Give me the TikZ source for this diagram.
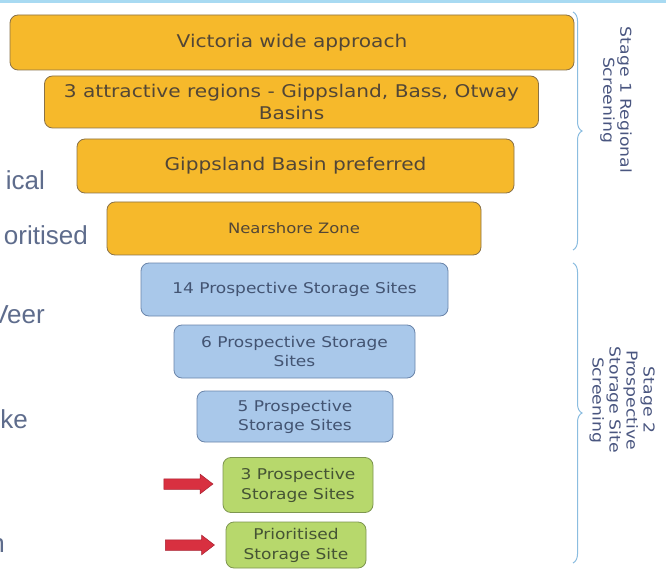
\documentclass[tikz,border=0pt]{standalone}
\usepackage{fontspec}
\newfontfamily\boxfont{DejaVu Sans}[FakeStretch=1.15]
\newfontfamily\leftfont{Liberation Sans}
\usetikzlibrary{decorations.pathreplacing,shapes.arrows}
\definecolor{orfill}{HTML}{F6B92B}
\definecolor{orline}{HTML}{8A7248}
\definecolor{ortext}{HTML}{524636}
\definecolor{blfill}{HTML}{A9C8EA}
\definecolor{blline}{HTML}{6A85AA}
\definecolor{bltext}{HTML}{435472}
\definecolor{grfill}{HTML}{B7D86C}
\definecolor{grline}{HTML}{7E9650}
\definecolor{grtext}{HTML}{455434}
\definecolor{redfill}{HTML}{D83040}
\definecolor{redline}{HTML}{A82030}
\definecolor{bracecol}{HTML}{8BBDE0}
\definecolor{lefttext}{HTML}{5E6C8C}
\definecolor{stagetext}{HTML}{4A5680}
\definecolor{topbar}{HTML}{A8DAF2}
\tikzset{
  funnelbox/.style={draw, rounded corners=8pt, line width=0.8pt, align=center, inner sep=0pt},
  orangebox/.style={funnelbox, fill=orfill, draw=orline, text=ortext, font=\boxfont\fontsize{17.5}{22}\selectfont},
  bluebox/.style={funnelbox, fill=blfill, draw=blline, text=bltext, font=\boxfont\fontsize{14.8}{19}\selectfont},
  greenbox/.style={funnelbox, fill=grfill, draw=grline, text=grtext, font=\boxfont\fontsize{14.8}{20}\selectfont},
  lefttxt/.style={text=lefttext, font=\leftfont\fontsize{26}{30}\selectfont, inner sep=0pt, anchor=base east},
  stagetxt/.style={text=stagetext, font=\boxfont\fontsize{15}{17}\selectfont, align=center, rotate=-90, inner sep=0pt},
  stagebrace/.style={draw=bracecol, line width=1pt, decorate, decoration={brace, amplitude=9pt}},
  redarrow/.style={single arrow, fill=redfill, draw=redline, line width=0.5pt, minimum height=49pt, minimum width=19pt, inner sep=0pt, text height=10pt, text depth=0pt, single arrow head extend=4.5pt, single arrow tip angle=75, shape border rotate=0}
}
\begin{document}
\begin{tikzpicture}[x=1pt,y=-1pt]
\useasboundingbox[fill=white] (0,0) rectangle (666,569);
\fill[topbar] (0,0) rectangle (666,3);

% funnel boxes
\node[orangebox, minimum width=564pt, minimum height=55pt] (v) at (292,42.5) {Victoria wide approach};
\node[orangebox, minimum width=494pt, minimum height=52pt] (r) at (291.5,102) {3 attractive regions - Gippsland, Bass, Otway\\Basins};
\node[orangebox, minimum width=437pt, minimum height=54pt] (g) at (295.5,166) {Gippsland Basin preferred};
\node[orangebox, minimum width=374pt, minimum height=53pt, font=\boxfont\fontsize{14.3}{18}\selectfont] (n) at (294,228.5) {Nearshore Zone};
\node[bluebox, minimum width=307pt, minimum height=53pt] (s14) at (294.5,289.5) {14 Prospective Storage Sites};
\node[bluebox, minimum width=241pt, minimum height=53pt] (s6) at (294.5,351.5) {6 Prospective Storage\\Sites};
\node[bluebox, minimum width=196pt, minimum height=51pt] (s5) at (295,416.5) {5 Prospective\\Storage Sites};
\node[greenbox, minimum width=150pt, minimum height=55pt] (s3) at (298,485) {3 Prospective\\Storage Sites};
\node[greenbox, minimum width=140pt, minimum height=46pt] (p) at (296,545) {Prioritised\\Storage Site};

% red arrows
\node[redarrow] (a1) at (185,484) {};
\node[redarrow] (a2) at (186.5,545) {};

% cut-off left text
\node[lefttxt] (t1) at (45,190) {ical};
\node[lefttxt] (t2) at (88,244) {oritised};
\node[lefttxt] (t3) at (45,323) {Veer};
\node[lefttxt] (t4) at (28,428) {ke};
\node[lefttxt] (t5) at (5,552) {n};

% braces
\coordinate (b1a) at (573,12);
\coordinate (b1b) at (573,250);
\coordinate (b2a) at (573,263);
\coordinate (b2b) at (573,563);
\draw[stagebrace] (b1a) -- (b1b);
\draw[stagebrace] (b2a) -- (b2b);

% stage labels
\node[stagetxt] (st1) at (616,100) {Stage 1 Regional\\Screening};
\node[stagetxt] (st2) at (622,400) {Stage 2\\Prospective\\Storage Site\\Screening};
\end{tikzpicture}
\end{document}
